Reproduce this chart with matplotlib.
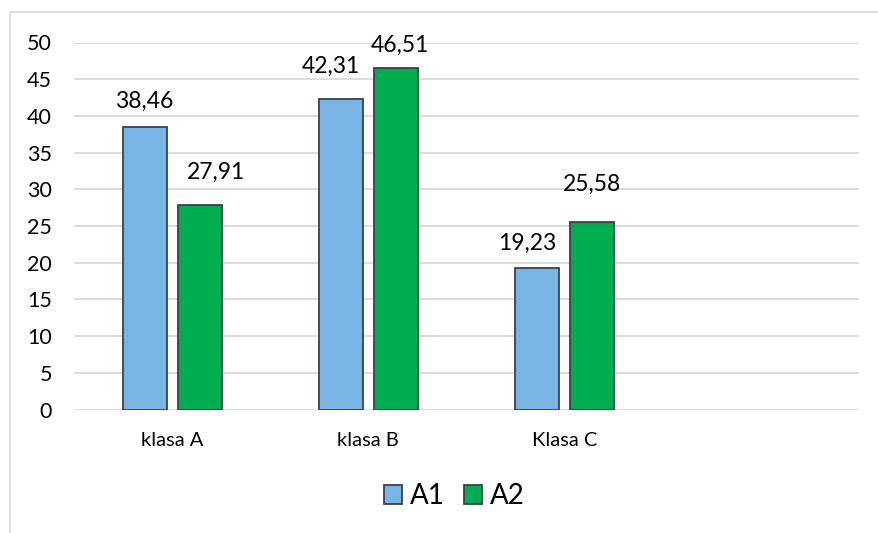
import matplotlib
matplotlib.use("Agg")
import matplotlib.pyplot as plt
from matplotlib.patches import Rectangle
import numpy as np

plt.rcParams['font.family'] = ['Lato', 'DejaVu Sans']

categories = ["klasa A", "klasa B", "Klasa C", ""]
series_names = ["A1", "A2"]
a1_values = [38.46, 42.31, 19.23]
a2_values = [27.91, 46.51, 25.58]
y_ticks = [0, 5, 10, 15, 20, 25, 30, 35, 40, 45, 50]

colors = ["#78b4e4", "#00ae4f"]
edge = "#3d3f4f"

# label nudges (dx px, gap above bar px)
a1_label_offsets = [(0, 19), (-10, 26), (-10, 19)]
a2_label_offsets = [(16, 26), (4, 16), (0, 31)]

W, H, DPI = 879, 533, 100
fig = plt.figure(figsize=(W / DPI, H / DPI), dpi=DPI)

# chart frame
fig.patches.append(Rectangle((10 / W, -0.1), 1.2, 1 - 12 / H + 0.1,
                             transform=fig.transFigure, fill=False,
                             edgecolor="#d9d9d9", linewidth=1.2))

ax = fig.add_axes([74 / W, 1 - 409.5 / H, (859 - 74) / W, (409.5 - 42.5) / H])
ax.set_xlim(-0.5, len(categories) - 0.5)
ax.set_ylim(0, 50)

x = np.arange(len(a1_values))
bw = 0.224
off = 0.14
bars1 = ax.bar(x - off, a1_values, bw, color=colors[0], edgecolor=edge, linewidth=1.3,
               label=series_names[0], zorder=3)
bars2 = ax.bar(x + off, a2_values, bw, color=colors[1], edgecolor=edge, linewidth=1.3,
               label=series_names[1], zorder=3)

px = 72 / DPI
for bars, vals, offs in ((bars1, a1_values, a1_label_offsets),
                         (bars2, a2_values, a2_label_offsets)):
    for b, v, (dx, dy) in zip(bars, vals, offs):
        ax.annotate(f"{v:.2f}".replace(".", ","),
                    (b.get_x() + b.get_width() / 2, v),
                    xytext=(dx * px, dy * px), textcoords="offset points",
                    ha="center", va="baseline", fontsize=16.5, color="#000000")

ax.set_yticks(y_ticks)
ax.set_yticklabels([str(t) for t in y_ticks], fontsize=15.5)
ax.set_xticks(np.arange(len(categories)))
ax.set_xticklabels(categories, fontsize=14.5)
ax.tick_params(axis="y", length=0, pad=22 * px)
ax.tick_params(axis="x", length=0, pad=23 * px)
ax.grid(axis="y", color="#d9d9d9", linewidth=1.3, zorder=0)
for s in ax.spines.values():
    s.set_visible(False)

leg = fig.legend(handles=[bars1, bars2], labels=series_names, loc="center",
                 bbox_to_anchor=(454.5 / W, 1 - 496 / H), ncol=2, frameon=False,
                 fontsize=20, handlelength=0.65, handleheight=0.65,
                 handletextpad=0.29, columnspacing=0.68)

fig.savefig("out.png", dpi=DPI)
